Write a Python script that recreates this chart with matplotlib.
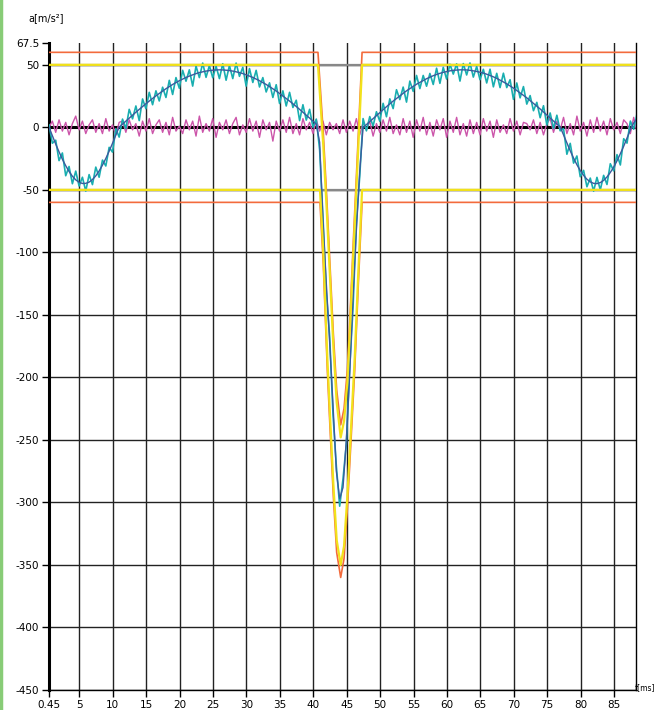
import numpy as np
import matplotlib.pyplot as plt
from matplotlib.lines import Line2D

# sample times of the measured signals (0.5 ms step)
t = 0.45 + 0.5 * np.arange(177)

# smoothed acceleration [m/s^2]
smooth = [
    0, -6.7, -13.3, -19.6, -25.5, -30.7, -35.3, -39.1, -42.0, -43.9, -44.9, -44.8, -43.8, -41.8, -38.8, -34.9,
    -30.2, -24.9, -19.0, -12.8, -6.1, 0.2, 2.6, 5.0, 7.4, 9.8, 12.1, 14.4, 16.7, 18.9, 21.0, 23.1,
    25.2, 27.1, 29.1, 30.9, 32.6, 34.3, 35.8, 37.3, 38.6, 39.9, 41.0, 42.0, 43.0, 43.8, 44.4, 45.0,
    45.4, 45.7, 45.9, 46.0, 45.9, 45.7, 45.4, 45.0, 44.4, 43.8, 43.0, 42.0, 41.0, 39.9, 38.6, 37.3,
    35.8, 34.3, 32.6, 30.9, 29.1, 27.1, 25.2, 23.1, 21.0, 18.9, 16.7, 14.4, 12.1, 9.8, 7.4, 5.0,
    2.6, -12, -75, -125, -172, -222, -275, -297, -288, -250, -197, -135, -82, -35, 0, 2.2,
    4.6, 7.1, 9.5, 11.9, 14.2, 16.5, 18.8, 21.0, 23.1, 25.2, 27.2, 29.2, 31.0, 32.8, 34.5, 36.0,
    37.5, 38.9, 40.1, 41.3, 42.3, 43.2, 44.0, 44.6, 45.2, 45.6, 45.8, 46.0, 46.0, 45.9, 45.6, 45.2,
    44.7, 44.1, 43.4, 42.5, 41.5, 40.4, 39.2, 37.8, 36.3, 34.8, 33.1, 31.4, 29.5, 27.6, 25.6, 23.6,
    21.4, 19.3, 17.0, 14.7, 12.3, 9.9, 7.5, 5.1, 2.7, 0.2, -6.0, -12.5, -18.8, -24.6, -29.9, -34.5,
    -38.4, -41.5, -43.6, -44.8, -45.0, -44.2, -42.4, -39.7, -36.1, -31.8, -26.8, -21.1, -15.1, -8.6, -2.0, 3.5,
    7.0,
]

# raw acceleration (noisy)
raw = [
    2, -12.7, -10.3, -26.6, -20.5, -38.7, -31.3, -45.1, -35.0, -46.9, -39.9, -51, -37.8, -45.8, -31.8, -39.9,
    -26.2, -30.9, -16.0, -19.8, -1.1, -7.8, 6.6, -1.0, 14.4, 6.8, 17.1, 5.4, 22.7, 14.9, 28.0, 18.1,
    29.2, 21.1, 32.1, 23.9, 37.6, 26.3, 39.8, 31.3, 45.6, 36.9, 46.0, 33.0, 49.0, 39.8, 51.4, 40.0,
    49.4, 39.7, 48.9, 39.0, 50.9, 37.7, 49.4, 39.0, 51.4, 40.8, 48.0, 33.0, 47.0, 35.9, 45.6, 32.3,
    39.8, 28.3, 35.6, 23.9, 34.1, 19.1, 29.2, 17.1, 28.0, 15.9, 21.7, 5.4, 18.1, 5.8, 14.4, 0.0,
    6.6, -18, -72, -132, -167, -230, -271, -303, -281, -253, -192, -144, -76, -39, 7, -2.8,
    8.6, 1.1, 12.5, 4.9, 19.2, 8.5, 22.8, 15.0, 30.1, 22.2, 32.2, 20.2, 37.0, 28.8, 41.5, 31.0,
    41.5, 32.9, 43.1, 34.3, 47.3, 35.2, 48.0, 38.6, 50.5, 42.6, 50.8, 37.0, 51.0, 41.9, 51.5, 40.2,
    48.7, 38.1, 46.4, 35.5, 46.5, 32.4, 43.2, 31.8, 43.3, 31.8, 38.1, 22.4, 35.5, 23.6, 32.6, 18.6,
    25.4, 13.3, 20.0, 7.7, 17.3, 1.9, 11.5, -0.9, 9.7, -2.8, -1.0, -21.5, -12.8, -28.6, -22.9, -39.5,
    -34.4, -47.5, -40.6, -51, -40.0, -50, -38.4, -45.7, -29.1, -34.8, -21.8, -30.1, -9.1, -12.6, 5.0, -1.5,
    11.0,
]

# second channel around zero
other = [
    0, 5, -4, 6, -3, 4, -6, 3, 9, -2, 5, -5, 2, 6, -4, 3,
    -5, 7, -3, 2, -6, 4, 5, -4, 6, -2, 3, -7, 5, -3, 7, -5,
    2, 6, -4, 4, -6, 8, -3, 1, -5, 6, -2, 5, -7, 9, -4, 3,
    -3, 7, -8, 4, -2, 6, -5, 3, 8, -6, 2, -4, 7, -3, 5, -8,
    6, -2, 4, -11, 5, -3, 6, -4, 8, -5, 3, -6, 7, -2, 4, -5,
    6, -3, 5, -6, 4, -2, 3, -5, 6, -4, 5, -3, 7, -6, 4, -2,
    5, -7, 3, -4, 6, -3, 8, -5, 2, -6, 7, -4, 5, -8, 6, -3,
    8, -6, 4, -7, 6, -2, 7, -8, 5, -4, 8, -6, 3, -7, 6, -5,
    4, -6, 7, -3, 5, -8, 6, -4, 2, -5, 7, -3, 5, -6, 4, 3,
    -2, 6, -5, 4, -6, 3, 7, -4, 5, -2, 8, -5, 3, -6, 9, -3,
    4, -7, 6, -4, 8, -3, 5, -6, 7, -2, 4, -5, 6, 3, -5, 8,
    -4,
]

# tolerance band (upper)
t_up = [0.45, 40.7, 41.5, 42.0, 42.5, 43.0, 43.5, 44.1, 44.6, 45.1, 45.5, 46.0, 46.6, 47.3, 88.3]
up_orange = [60, 60, -5, -55, -110, -165, -210, -238, -225, -194, -150, -90, -22, 60, 60]
up_yellow = [50, 50, -15, -65, -120, -175, -220, -248, -235, -204, -160, -100, -32, 50, 50]

# tolerance band (lower)
t_lo = [0.45, 41.0, 41.5, 42.1, 42.5, 43.0, 43.5, 44.1, 44.6, 45.1, 45.6, 46.2, 46.7, 47.3, 88.3]
lo_orange = [-60, -60, -110, -194, -240, -295, -340, -360, -345, -305, -255, -194, -130, -60, -60]
lo_yellow = [-50, -50, -100, -184, -230, -285, -330, -350, -335, -295, -245, -184, -120, -50, -50]

xticks = [0.45, 5, 10, 15, 20, 25, 30, 35, 40, 45, 50, 55, 60, 65, 70, 75, 80, 85]
xlabels = ['0.45'] + [str(v) for v in xticks[1:]]
yticks = [67.5, 50, 0, -50, -100, -150, -200, -250, -300, -350, -400, -450]
ylabels = ['67.5'] + [str(v) for v in yticks[1:]]

plt.rcParams['font.family'] = ['DejaVu Sans']

fig = plt.figure(figsize=(6.57, 7.10), dpi=100)
ax = fig.add_axes([0.0746, 0.0282, 0.8935, 0.9113])

# grid
for x in xticks[1:]:
    ax.axvline(x, color='#222222', lw=1.0, zorder=1)
for y in yticks[1:]:
    if y != 0:
        ax.axhline(y, color='#222222', lw=1.0, zorder=1)
ax.axhline(50, color='#888888', lw=1.6, zorder=1)
ax.axhline(-50, color='#888888', lw=1.6, zorder=1)
ax.axhline(0, color='black', lw=2.2, zorder=2)

ax.plot(t, other, color='#cc55aa', lw=1.0, zorder=3)
ax.plot(t, raw, color='#19aeb0', lw=1.2, zorder=4)
ax.plot(t, smooth, color='#3a5a9e', lw=1.0, zorder=5)

ax.plot(t_up, up_orange, color='#f36b3c', lw=1.2, zorder=6)
ax.plot(t_lo, lo_orange, color='#f36b3c', lw=1.2, zorder=6)
ax.plot(t_up, up_yellow, color='#f2e21a', lw=1.6, zorder=7)
ax.plot(t_lo, lo_yellow, color='#f2e21a', lw=1.6, zorder=7)

ax.set_xlim(0.45, 88.3)
ax.set_ylim(-450, 67.5)
ax.set_xticks(xticks)
ax.set_xticklabels(xlabels)
ax.set_yticks(yticks)
ax.set_yticklabels(ylabels)
ax.tick_params(axis='both', labelsize=7.5, length=5, width=1, color='black', pad=2)

ax.spines['top'].set_visible(False)
ax.spines['left'].set_linewidth(2.2)
ax.spines['bottom'].set_linewidth(1.0)
ax.spines['right'].set_linewidth(1.0)

fig.text(655 / 657, 1 - 688 / 710, 't[ms]', fontsize=5.5, ha='right', va='center')
fig.text(28 / 657, 1 - 18 / 710, 'a[m/s²]', fontsize=7, ha='left', va='center')

# green border on the left edge
fig.add_artist(Line2D([0.002, 0.002], [0, 1], transform=fig.transFigure, color='#88cc77', lw=2.5))

plt.savefig('out.png', dpi=100)
